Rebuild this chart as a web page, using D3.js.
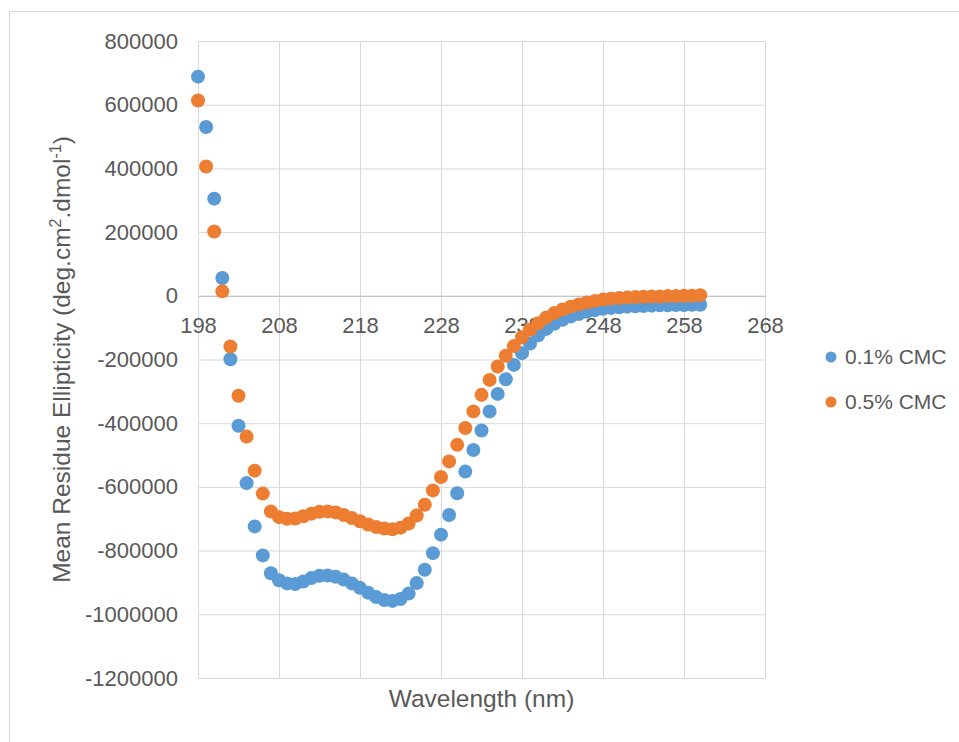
<!DOCTYPE html>
<html>
<head>
<meta charset="utf-8">
<script src="https://cdn.jsdelivr.net/npm/d3@7"></script>
<style>
  body { margin: 0; background: #fff; }
  text { font-family: "Liberation Sans", Arial, sans-serif; fill: #595959; }
</style>
</head>
<body>
<svg id="chart" width="959" height="742"></svg>
<script>
// wavelength (nm), one reading per nm
var wavelength = [198, 199, 200, 201, 202, 203, 204, 205, 206, 207,
  208, 209, 210, 211, 212, 213, 214, 215, 216, 217,
  218, 219, 220, 221, 222, 223, 224, 225, 226, 227,
  228, 229, 230, 231, 232, 233, 234, 235, 236, 237,
  238, 239, 240, 241, 242, 243, 244, 245, 246, 247,
  248, 249, 250, 251, 252, 253, 254, 255, 256, 257,
  258, 259, 260];

// mean residue ellipticity, 0.1% CMC
var cmc01 = [688000, 530000, 305000, 56000, -199000, -408000, -588000, -724000, -815000, -871000,
  -893000, -903000, -905000, -897000, -886000, -879000, -878000, -882000, -891000, -903000,
  -917000, -932000, -946000, -955000, -958000, -952000, -935000, -902000, -860000, -808000,
  -750000, -688000, -620000, -552000, -484000, -423000, -363000, -308000, -262000, -217000,
  -180000, -150000, -124000, -104000, -88000, -75000, -65000, -57000, -50000, -45000,
  -41000, -38000, -36000, -34000, -33000, -32000, -31000, -30000, -30000, -29000,
  -29000, -28000, -28000];

// mean residue ellipticity, 0.5% CMC
var cmc05 = [613000, 406000, 202000, 14000, -159000, -314000, -442000, -549000, -621000, -677000,
  -695000, -700000, -699000, -692000, -684000, -678000, -677000, -680000, -688000, -698000,
  -708000, -718000, -726000, -731000, -733000, -728000, -715000, -690000, -656000, -611000,
  -569000, -520000, -468000, -415000, -363000, -311000, -264000, -222000, -188000, -158000,
  -130000, -106000, -86000, -68000, -54000, -43000, -34000, -27000, -21000, -16000,
  -12000, -9000, -7000, -5000, -4000, -3000, -2000, -2000, -1000, -1000,
  0, 0, 2000];

var xTicks = [198, 208, 218, 228, 238, 248, 258, 268];
var yTicks = [-1200000, -1000000, -800000, -600000, -400000, -200000, 0, 200000, 400000, 600000, 800000];

var seriesNames = ["0.1% CMC", "0.5% CMC"];
var seriesColors = ["#5B9BD5", "#ED7D31"];

var svg = d3.select("#chart");
var plotL = 198, plotR = 765, plotT = 41, plotB = 678;

var x = d3.scaleLinear().domain([198, 268]).range([plotL, plotR]);
var y = d3.scaleLinear().domain([-1200000, 800000]).range([plotB, plotT]);

svg.append("rect").attr("width", 959).attr("height", 742).attr("fill", "#fff");

// chart frame (only top + left edges show in the picture)
svg.append("path").attr("d", "M9.5,742V11.5H959").attr("fill", "none").attr("stroke", "#d9d9d9");

// vertical gridlines
var xGrid = svg.append("g")
  .attr("transform", "translate(0," + plotB + ")")
  .call(d3.axisBottom(x).tickValues(xTicks).tickSize(-(plotB - plotT)).tickFormat(""));
xGrid.select(".domain").remove();
xGrid.selectAll("line").attr("stroke", "#d9d9d9");

// horizontal gridlines + y labels
var yAxis = svg.append("g")
  .attr("transform", "translate(" + plotL + ",0)")
  .call(d3.axisLeft(y).tickValues(yTicks).tickSize(-(plotR - plotL)).tickPadding(20)
    .tickFormat(function(d) { return String(d); }));
yAxis.select(".domain").remove();
yAxis.selectAll("line").attr("stroke", "#d9d9d9");
yAxis.selectAll("text").attr("font-size", 22).attr("font-family", null);

// x axis sits on zero
var xAxis = svg.append("g")
  .attr("transform", "translate(0," + y(0) + ")")
  .call(d3.axisBottom(x).tickValues(xTicks).tickSize(0).tickPadding(22));
xAxis.select(".domain").attr("stroke", "#bfbfbf");
xAxis.selectAll("text").attr("font-size", 22).attr("font-family", null);

// markers, second series on top
[cmc01, cmc05].forEach(function(vals, i) {
  svg.append("g").selectAll("circle")
    .data(vals).enter().append("circle")
    .attr("cx", function(d, j) { return x(wavelength[j]); })
    .attr("cy", function(d) { return y(d); })
    .attr("r", 7)
    .attr("fill", seriesColors[i]);
});

// axis titles
svg.append("text")
  .attr("x", (plotL + plotR) / 2).attr("y", 698).attr("dy", "0.35em")
  .attr("text-anchor", "middle").attr("font-size", 24.5)
  .text("Wavelength (nm)");

var yt = svg.append("text")
  .attr("transform", "translate(61," + (plotT + plotB) / 2 + ") rotate(-90)")
  .attr("dy", "0.35em")
  .attr("text-anchor", "middle").attr("font-size", 24.5);
yt.append("tspan").text("Mean Residue Ellipticity (deg.cm");
yt.append("tspan").attr("dy", -9).attr("font-size", 16).text("2");
yt.append("tspan").attr("dy", 9).text(".dmol");
yt.append("tspan").attr("dy", -9).attr("font-size", 16).text("-1");
yt.append("tspan").attr("dy", 9).text(")");

// legend
var legend = svg.append("g").selectAll("g")
  .data(seriesNames).enter().append("g")
  .attr("transform", function(d, i) { return "translate(831," + (357 + i * 45) + ")"; });
legend.append("circle").attr("r", 5.5).attr("fill", function(d, i) { return seriesColors[i]; });
legend.append("text").attr("x", 14).attr("dy", "0.35em").attr("font-size", 21)
  .text(function(d) { return d; });
</script>
</body>
</html>
